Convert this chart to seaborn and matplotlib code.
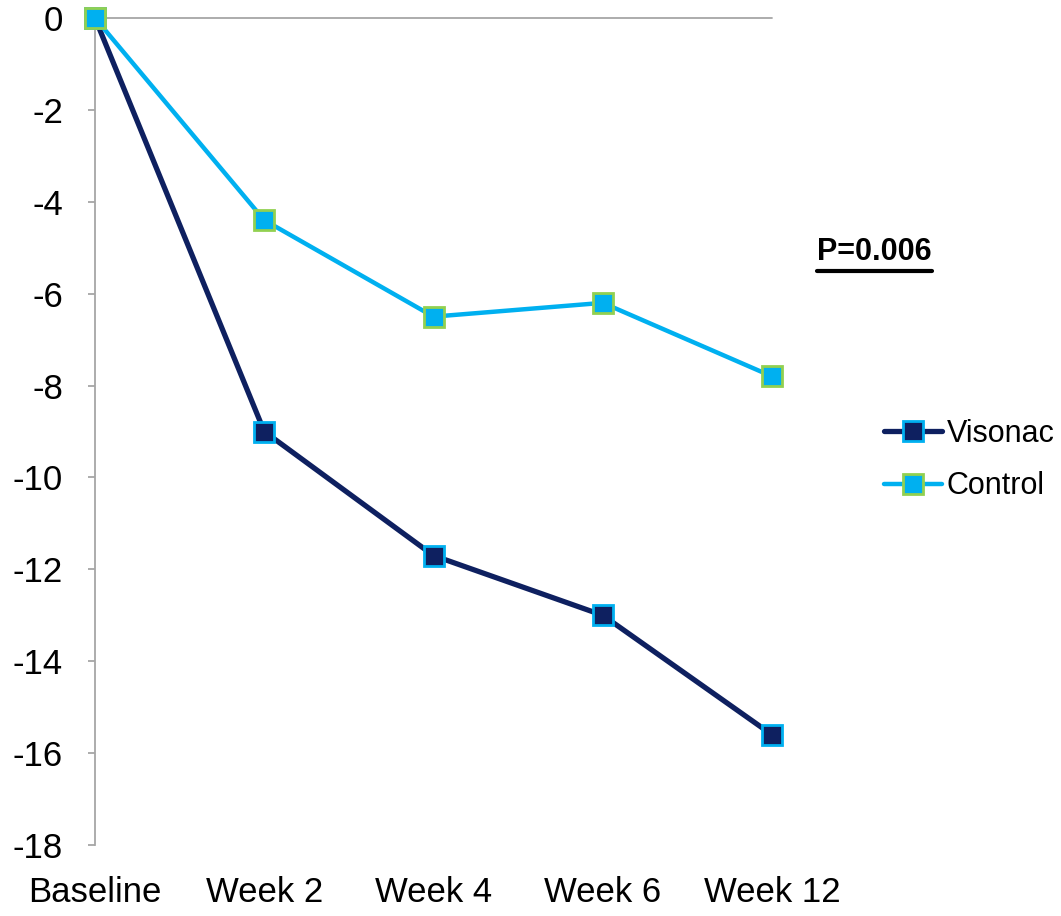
import matplotlib

matplotlib.use('Agg')
import matplotlib.pyplot as plt
import seaborn as sns
import pandas as pd
from matplotlib.lines import Line2D

# data
weeks = ['Baseline', 'Week 2', 'Week 4', 'Week 6', 'Week 12']
visonac = [0, -9.0, -11.7, -13.0, -15.6]
control = [0, -4.4, -6.5, -6.2, -7.8]
y_ticks = [0, -2, -4, -6, -8, -10, -12, -14, -16, -18]
p_text = 'P=0.006'

sns.set_style('white')
plt.rcParams['font.family'] = ['Liberation Sans', 'DejaVu Sans']
plt.rcParams['text.color'] = 'black'

df = pd.DataFrame({'week': weeks * 2,
                   'value': visonac + control,
                   'group': ['Visonac'] * len(weeks) + ['Control'] * len(weeks)})

fig = plt.figure(figsize=(10.61, 9.16), dpi=100)
W, H = 1061, 916
ax = fig.add_axes([95 / W, (H - 845) / H, (772 - 95) / W, (845 - 18) / H])

navy = '#0E2060'
cyan = '#00B0F0'
green = '#92D050'

# Visonac
sns.lineplot(data=df[df.group == 'Visonac'], x='week', y='value', ax=ax, color=navy,
             linewidth=3.8, marker='s', markersize=15, markerfacecolor=navy,
             markeredgecolor=cyan, markeredgewidth=2, zorder=3)
# Control
sns.lineplot(data=df[df.group == 'Control'], x='week', y='value', ax=ax, color=cyan,
             linewidth=3.2, marker='s', markersize=15, markerfacecolor=cyan,
             markeredgecolor=green, markeredgewidth=2, zorder=4)
for ln in ax.lines:
    ln.set_clip_on(False)

ax.set_xlim(0, 4)
ax.set_ylim(-18, 0)
ax.set_yticks(y_ticks)
ax.set_yticklabels([str(t) for t in y_ticks])
ax.set_xlabel('')
ax.set_ylabel('')

# axis styling: left axis visible, horizontal axis at zero, labels at bottom
for s in ['top', 'right', 'bottom']:
    ax.spines[s].set_visible(False)
ax.spines['left'].set_color('#A6A6A6')
ax.spines['left'].set_linewidth(1.3)
ax.axhline(0, color='#A6A6A6', linewidth=1.3, zorder=1, clip_on=False)
ax.tick_params(axis='y', length=5, width=1.3, color='#A6A6A6', labelsize=25, pad=18, left=True)
ax.tick_params(axis='x', length=0, labelsize=25, pad=22)
for t in ax.get_xticklabels() + ax.get_yticklabels():
    t.set_color('black')

handles = [Line2D([], [], color=navy, linewidth=3.8, marker='s', markersize=15,
                  markerfacecolor=navy, markeredgecolor=cyan, markeredgewidth=2),
           Line2D([], [], color=cyan, linewidth=3.2, marker='s', markersize=15,
                  markerfacecolor=cyan, markeredgecolor=green, markeredgewidth=2)]
leg = fig.legend(handles, ['Visonac', 'Control'], loc='center left',
                 bbox_to_anchor=(884 / W, 1 - 460 / H), frameon=False, fontsize=22,
                 handlelength=1.9, handletextpad=0.15, labelspacing=0.75,
                 borderpad=0, borderaxespad=0)
for t in leg.get_texts():
    t.set_color('black')

# bold underlined p-value
pt = fig.text(817 / W, 1 - 252 / H, p_text, fontsize=22, fontweight='bold',
              ha='left', va='center', color='black')
fig.canvas.draw()
bb = pt.get_window_extent().transformed(fig.transFigure.inverted())
fig.add_artist(Line2D([bb.x0, bb.x1], [bb.y0 - 0.004, bb.y0 - 0.004],
                      color='black', linewidth=3, transform=fig.transFigure))

fig.savefig('out.png', dpi=100)
